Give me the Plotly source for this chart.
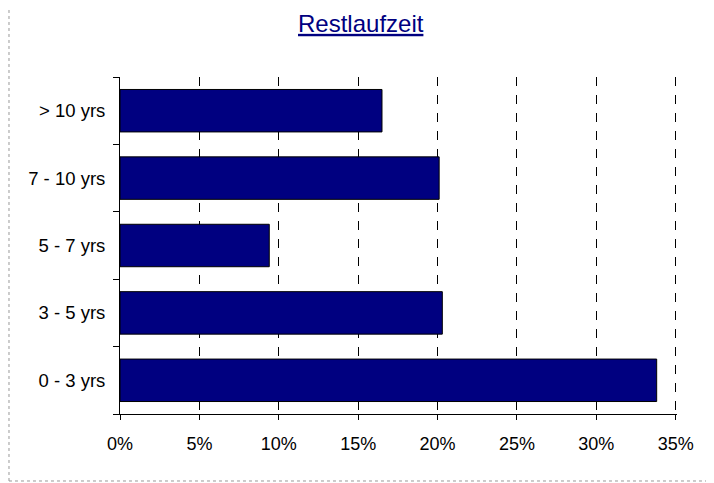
import plotly.graph_objects as go

categories = ["0 - 3 yrs", "3 - 5 yrs", "5 - 7 yrs", "7 - 10 yrs", "> 10 yrs"]
shares = [0.338, 0.203, 0.094, 0.201, 0.165]
x_ticks = [0, 0.05, 0.10, 0.15, 0.20, 0.25, 0.30, 0.35]

fig = go.Figure(
    go.Bar(
        x=shares,
        y=categories,
        orientation="h",
        width=0.63,
        marker=dict(color="#000080", line=dict(color="#000000", width=1)),
    )
)

# the page puts the figure 8px in from the top-left corner, margins allow for it
fig.update_layout(
    width=714,
    height=483,
    margin=dict(l=112, r=45, t=69, b=77),
    paper_bgcolor="white",
    plot_bgcolor="white",
    showlegend=False,
    font=dict(family="Liberation Sans, Arial, sans-serif", size=18.5, color="black"),
    title=dict(
        text="<u>Restlaufzeit</u>",
        font=dict(size=24, color="#000080"),
        x=0.494,
        xref="container",
        xanchor="center",
        y=0.968,
        yref="container",
        yanchor="middle",
    ),
)

fig.update_xaxes(
    range=[0, 0.3508],
    tickvals=x_ticks,
    tickformat=".0%",
    showgrid=True,
    gridcolor="black",
    gridwidth=1,
    griddash="dash",
    zeroline=False,
    showline=True,
    linecolor="black",
    linewidth=1,
    ticks="outside",
    ticklen=5,
    tickcolor="black",
    tickfont=dict(size=18),
    ticklabelstandoff=8,
    automargin=False,
)

fig.update_yaxes(
    categoryorder="array",
    categoryarray=categories,
    tickson="boundaries",
    ticks="outside",
    ticklen=6,
    tickcolor="black",
    showline=True,
    linecolor="black",
    linewidth=1,
    showgrid=False,
    ticklabelstandoff=10,
    automargin=False,
)

# dotted frame around the chart area: only the left and bottom edges are in view
frame = dict(color="#999999", width=1, dash="dot")
fig.add_shape(type="line", xref="paper", yref="paper",
              x0=-0.1993, x1=-0.1993, y0=-0.1988, y1=1.3, line=frame)
fig.add_shape(type="line", xref="paper", yref="paper",
              x0=-0.1993, x1=1.3, y0=-0.1988, y1=-0.1988, line=frame)

fig.write_html("out.html")
